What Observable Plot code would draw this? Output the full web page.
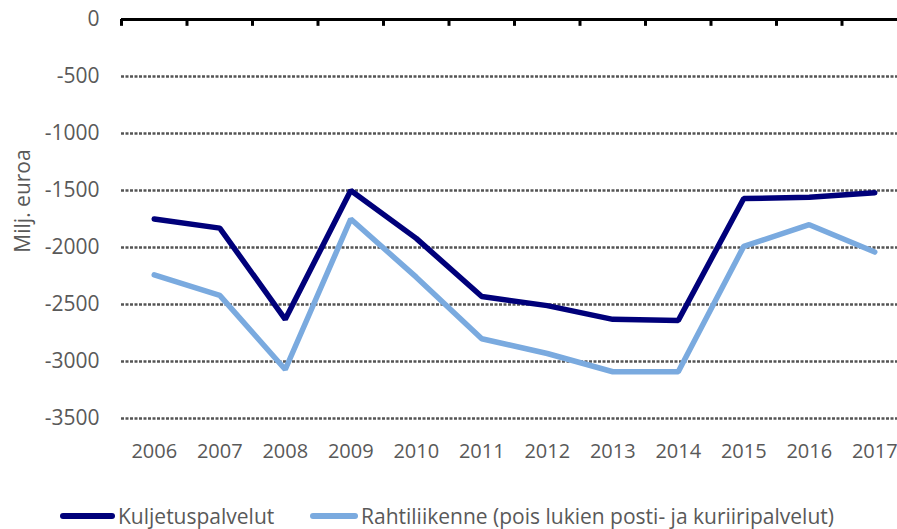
<!DOCTYPE html>
<html>
<head>
<meta charset="utf-8">
<script src="https://cdn.jsdelivr.net/npm/d3@7"></script>
<script src="https://cdn.jsdelivr.net/npm/@observablehq/plot@0.6"></script>
<style>
  body { margin: 0; background: #fff; font-family: "Open Sans", "Liberation Sans", sans-serif; }
  #legend { position: relative; height: 39px; font-size: 21px; color: #595959; }
  .item { position: absolute; top: 12px; display: flex; align-items: center; white-space: nowrap; }
  .sw { display: inline-block; height: 6px; border-radius: 3px; margin-right: 3px; }
</style>
</head>
<body>
<div id="chart"></div>
<div id="legend"></div>
<script>
const years = [2006, 2007, 2008, 2009, 2010, 2011, 2012, 2013, 2014, 2015, 2016, 2017];
const kuljetus = [-1750, -1830, -2630, -1500, -1920, -2430, -2510, -2630, -2640, -1570, -1560, -1520];
const rahti = [-2240, -2420, -3070, -1750, -2260, -2800, -2930, -3090, -3090, -1990, -1800, -2040];
const yTicks = [0, -500, -1000, -1500, -2000, -2500, -3000, -3500];
const gridTicks = [-500, -1000, -1500, -2000, -2500, -3000, -3500];
const seriesNames = ["Kuljetuspalvelut", "Rahtiliikenne (pois lukien posti- ja kuriiripalvelut)"];
const yLabel = "Milj. euroa";
const colors = ["#00007a", "#7aaadf"];

const data = [];
years.forEach((y, i) => {
  data.push({year: y, value: kuljetus[i], series: seriesNames[0]});
  data.push({year: y, value: rahti[i], series: seriesNames[1]});
});
const boundaries = years.map(y => y - 0.5);

const chart = Plot.plot({
  width: 897,
  height: 490,
  marginTop: 19,
  marginBottom: 72,
  marginLeft: 121,
  marginRight: 0,
  style: {fontFamily: "'Open Sans', 'Liberation Sans', sans-serif", fontSize: "21px", color: "#595959", overflow: "hidden"},
  x: {domain: [2005.5, 2017.5], range: [121, 907]},
  y: {domain: [-3500, 0]},
  color: {domain: seriesNames, range: colors},
  marks: [
    Plot.ruleY(gridTicks, {x1: 2005.5, x2: 2017.5, stroke: "#555", strokeWidth: 2.5, strokeDasharray: "3,1.5"}),
    Plot.axisY({ticks: yTicks, tickSize: 0, tickPadding: 22, tickFormat: d => String(d), fill: "#595959", fontSize: 21, label: null}),
    Plot.axisX({ticks: years, tickSize: 0, tickPadding: 25, tickFormat: d => String(d), fill: "#595959", fontSize: 20, label: null}),
    Plot.text([yLabel], {frameAnchor: "left", rotate: -90, dx: -98, dy: -18, textAnchor: "middle", fill: "#595959", fontSize: 21}),
    Plot.line(data, {x: "year", y: "value", stroke: "series", strokeWidth: 5.5, strokeLinejoin: "miter", strokeLinecap: "round"}),
    Plot.ruleY([0], {x1: 2005.5, x2: 2017.5, stroke: "#000", strokeWidth: 3}),
    Plot.ruleX(boundaries, {y1: 0, y2: -60, stroke: "#000", strokeWidth: 3})
  ]
});
document.getElementById("chart").appendChild(chart);

const legend = document.getElementById("legend");
const pos = [{left: 60, w: 55}, {left: 310, w: 48}];
seriesNames.forEach((n, i) => {
  const it = document.createElement("div");
  it.className = "item";
  it.style.left = pos[i].left + "px";
  const sw = document.createElement("span");
  sw.className = "sw";
  sw.style.width = pos[i].w + "px";
  sw.style.background = colors[i];
  const t = document.createElement("span");
  t.textContent = n;
  it.appendChild(sw);
  it.appendChild(t);
  legend.appendChild(it);
});
</script>
</body>
</html>
